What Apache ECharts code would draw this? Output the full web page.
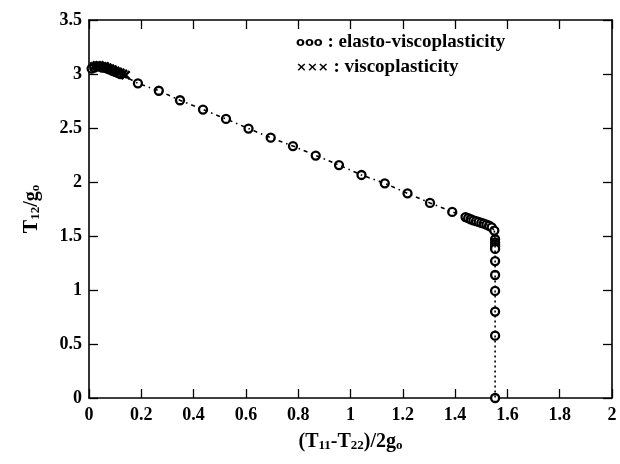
<!DOCTYPE html>
<html><head><meta charset="utf-8">
<script src="https://cdn.jsdelivr.net/npm/echarts@6/dist/echarts.min.js"></script>
<style>html,body{margin:0;padding:0;background:#fff}#c{width:620px;height:464px}</style>
</head><body><div id="c"></div>
<script>
// elasto-viscoplasticity (circles)
const elastoX = [0.01,0.02,0.03,0.04,0.05,0.06,0.07,0.08,0.09,0.10,0.11,0.12,0.187,0.267,0.348,0.436,0.524,0.61,0.695,0.78,0.867,0.956,1.042,1.131,1.218,1.304,1.389,1.44,1.45,1.46,1.47,1.48,1.49,1.50,1.51,1.52,1.53,1.54,1.55,1.553,1.553,1.553,1.553,1.553,1.553,1.553,1.553,1.553,1.553,1.553];
const elastoY = [3.05,3.06,3.07,3.07,3.06,3.06,3.05,3.04,3.03,3.02,3.01,3.00,2.914,2.845,2.757,2.671,2.584,2.495,2.41,2.333,2.245,2.157,2.065,1.988,1.895,1.806,1.723,1.675,1.665,1.655,1.645,1.638,1.63,1.622,1.614,1.605,1.595,1.58,1.55,1.47,1.44,1.42,1.40,1.38,1.268,1.139,0.991,0.80,0.577,0.0];
// viscoplasticity (crosses)
const viscoX = [0.02,0.03,0.04,0.05,0.06,0.07,0.08,0.09,0.10,0.11,0.12,0.13,0.14];
const viscoY = [3.07,3.08,3.08,3.07,3.07,3.06,3.05,3.04,3.03,3.02,3.01,3.00,2.99];
const xTicks = [0,0.2,0.4,0.6,0.8,1,1.2,1.4,1.6,1.8,2];
const yTicks = [0,0.5,1,1.5,2,2.5,3,3.5];
const legendMarks = ['ooo', '\u00D7\u00D7\u00D7'];
const legendTexts = [' : elasto-viscoplasticity', ' : viscoplasticity'];

const FONT = 'Liberation Serif';
const pairs = (xs, ys) => xs.map((x, i) => [x, ys[i]]);
const elasto = pairs(elastoX, elastoY);
const visco = pairs(viscoX, viscoY);
const splitIdx = elastoX.indexOf(1.55);
const diag = elasto.slice(0, splitIdx + 1);
const vert = elasto.slice(splitIdx);

const lbl = {fontFamily: FONT, fontWeight: 'bold', fontSize: 18, color: '#000'};
const axLine = {show: true, onZero: false, lineStyle: {color: '#000', width: 1.6}};
const tick = {show: true, inside: true, length: 9, lineStyle: {color: '#000', width: 1.3}};
const crossPath = 'path://M0,0L10,10M10,0L0,10';
const subRich = {s: {fontFamily: FONT, fontWeight: 'bold', fontSize: 13, color: '#000', verticalAlign: 'bottom', padding: [7, 0, 0, 0]}};

const chart = echarts.init(document.getElementById('c'), null, {renderer: 'canvas'});
chart.setOption({
  animation: false,
  backgroundColor: '#fff',
  grid: {left: 89, right: 8, top: 20, bottom: 66},
  xAxis: [{
    type: 'value', min: 0, max: 2, interval: 0.2, position: 'bottom',
    axisLine: axLine, axisTick: tick, splitLine: {show: false},
    axisLabel: Object.assign({margin: 8, formatter: v => String(+v.toFixed(1))}, lbl),
    name: '(T{s|11}-T{s|22})/2g{s|o}', nameLocation: 'middle', nameGap: 34,
    nameTextStyle: {fontFamily: FONT, fontWeight: 'bold', fontSize: 20, color: '#000', rich: subRich}
  }, {
    type: 'value', min: 0, max: 2, interval: 0.2, position: 'top',
    axisLine: axLine, axisTick: tick, splitLine: {show: false}, axisLabel: {show: false}
  }],
  yAxis: [{
    type: 'value', min: 0, max: 3.5, interval: 0.5, position: 'left',
    axisLine: axLine, axisTick: tick, splitLine: {show: false},
    axisLabel: Object.assign({margin: 7, formatter: v => String(+v.toFixed(1))}, lbl),
    name: 'T{s|12}/g{s|o}', nameLocation: 'middle', nameGap: 47, nameRotate: 90,
    nameTextStyle: {fontFamily: FONT, fontWeight: 'bold', fontSize: 20, color: '#000', rich: subRich}
  }, {
    type: 'value', min: 0, max: 3.5, interval: 0.5, position: 'right',
    axisLine: axLine, axisTick: tick, splitLine: {show: false}, axisLabel: {show: false}
  }],
  graphic: legendTexts.map((t, i) => ({
    type: 'text', left: 296, top: 33 + i * 25,
    style: {text: '{m|' + legendMarks[i] + '}' + t, fontFamily: FONT, fontWeight: 'bold', fontSize: 19, fill: '#000',
      rich: {m: {fontFamily: 'DejaVu Sans', fontWeight: 'bold', fontSize: 13, fill: '#000'}}}
  })),
  series: [
    {type: 'line', data: diag, symbol: 'none', silent: true,
     lineStyle: {color: '#000', width: 1.6, type: [4, 4, 1.5, 4]}},
    {type: 'line', data: vert, symbol: 'none', silent: true,
     lineStyle: {color: '#000', width: 1.6, type: [2, 3]}},
    {type: 'scatter', data: elasto, symbol: 'circle', symbolSize: 8,
     itemStyle: {color: '#fff', borderColor: '#000', borderWidth: 2.3, opacity: 1}},
    {type: 'scatter', data: visco, symbol: crossPath, symbolSize: 8,
     itemStyle: {color: '#000', borderColor: '#000', borderWidth: 2.5, opacity: 1}}
  ]
});
</script></body></html>
